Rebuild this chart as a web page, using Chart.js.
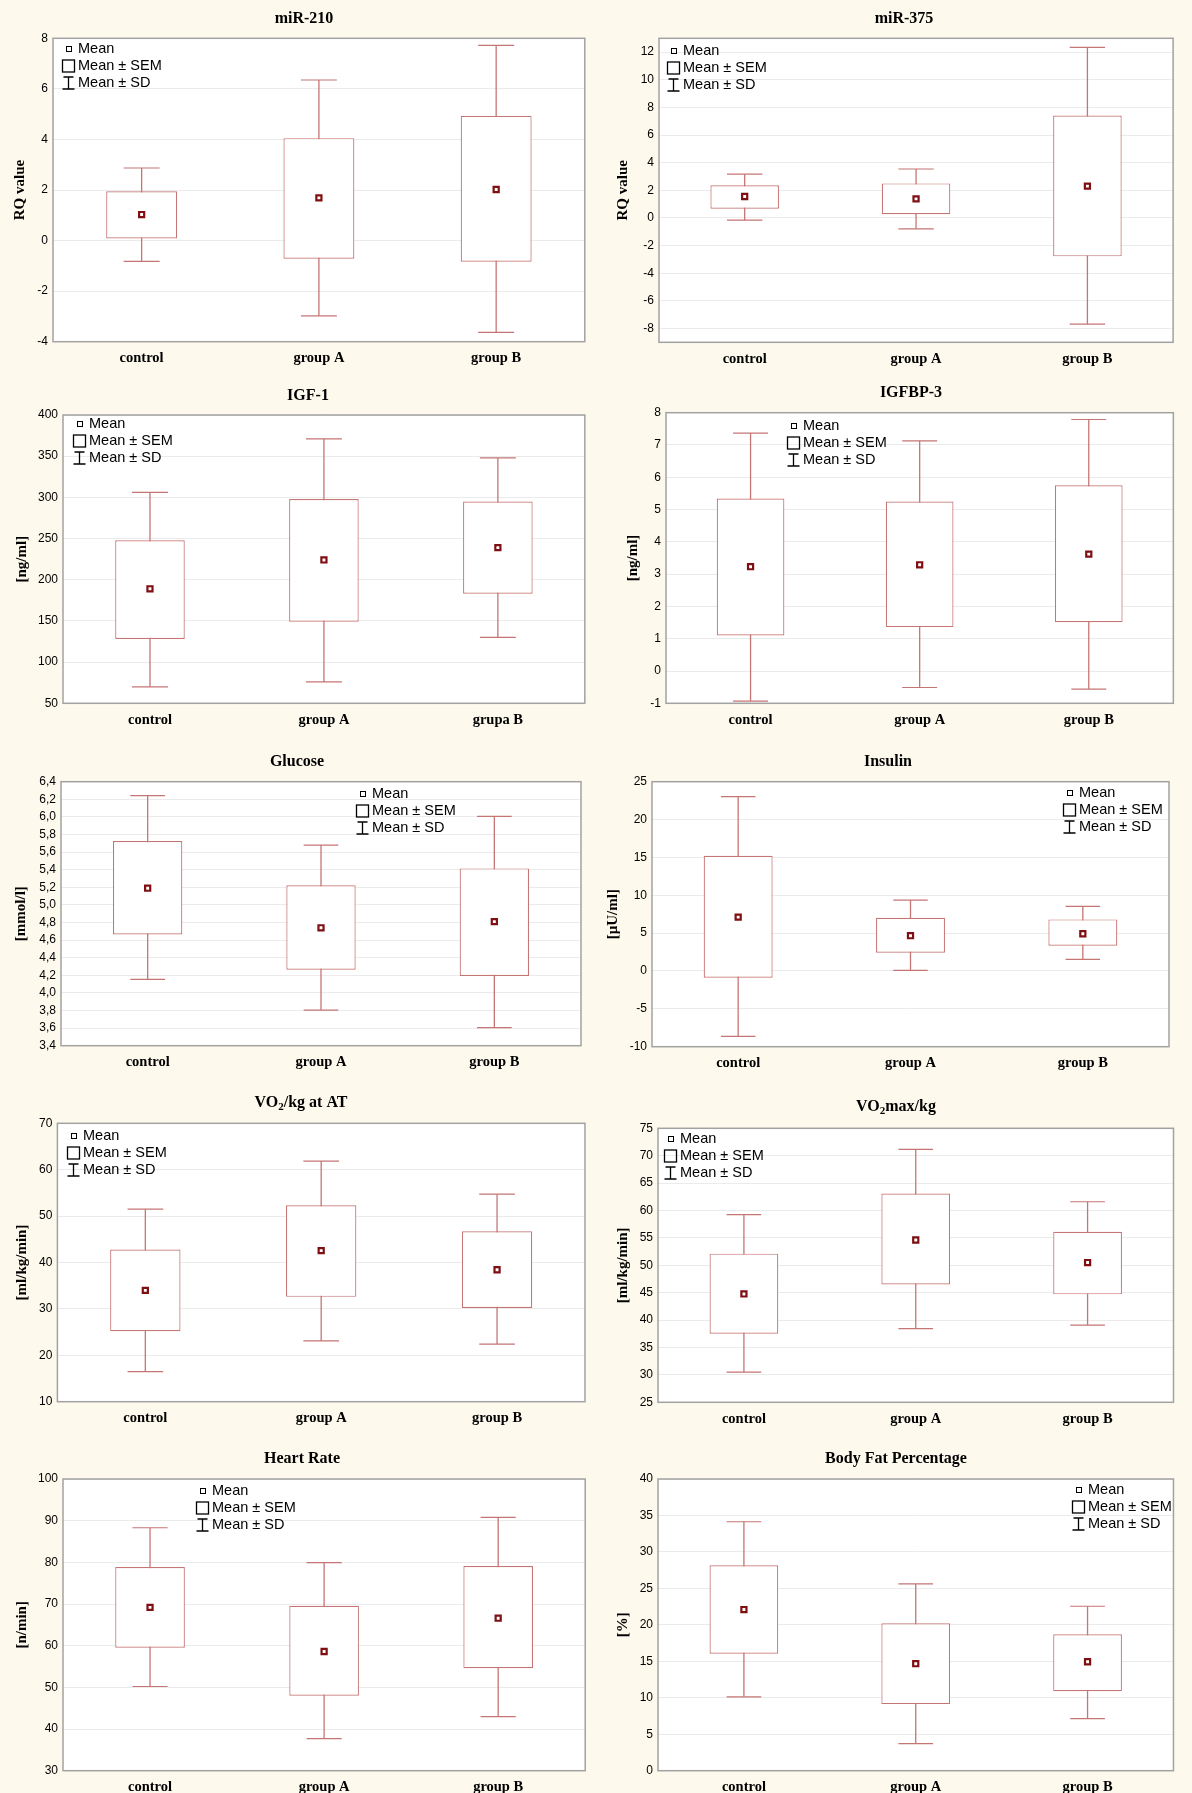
<!DOCTYPE html>
<html>
<head>
<meta charset="utf-8">
<script src="https://cdn.jsdelivr.net/npm/chart.js@4.4.1/dist/chart.umd.min.js"></script>
<style>
  html, body { margin: 0; padding: 0; background: #fdf9ec; }
  #page { position: relative; width: 1192px; height: 1793px; overflow: hidden; background: #fdf9ec; }
  .cell { position: absolute; }
</style>
</head>
<body>
<div id="page"></div>
<script>
// categories
const CATS = ["control", "group A", "group B"];
const CATS_IGF1 = ["control", "group A", "grupa B"];
const LEGEND_LABELS = ["Mean", "Mean ± SEM", "Mean ± SD"];

// values: mean, [mean - SEM, mean + SEM], [mean - SD, mean + SD]
const MIR210_MEAN = [1.03, 1.69, 2.02];
const MIR210_SEM = [[0.08, 1.95], [-0.72, 4.05], [-0.84, 4.93]];
const MIR210_SD = [[-0.82, 2.87], [-2.98, 6.35], [-3.63, 7.72]];
const MIR210_TICKS = [-4, -2, 0, 2, 4, 6, 8];

const MIR375_MEAN = [1.55, 1.38, 2.3];
const MIR375_SEM = [[0.66, 2.37], [0.27, 2.5], [-2.78, 7.41]];
const MIR375_SD = [[-0.16, 3.17], [-0.79, 3.54], [-7.69, 12.34]];
const MIR375_TICKS = [-8, -6, -4, -2, 0, 2, 4, 6, 8, 10, 12];

const IGF1_MEAN = [189, 224, 239];
const IGF1_SEM = [[128, 248], [149, 298], [183, 295]];
const IGF1_SD = [[70, 306], [76, 371], [130, 348]];
const IGF1_TICKS = [50, 100, 150, 200, 250, 300, 350, 400];

const IGFBP3_MEAN = [3.23, 3.29, 3.62];
const IGFBP3_SEM = [[1.1, 5.34], [1.36, 5.25], [1.51, 5.75]];
const IGFBP3_SD = [[-0.93, 7.37], [-0.51, 7.13], [-0.56, 7.79]];
const IGFBP3_TICKS = [-1, 0, 1, 2, 3, 4, 5, 6, 7, 8];

const GLUCOSE_MEAN = [5.19, 4.74, 4.81];
const GLUCOSE_SEM = [[4.665, 5.726], [4.264, 5.222], [4.192, 5.415]];
const GLUCOSE_SD = [[4.154, 6.241], [3.805, 5.68], [3.605, 6.006]];
const GLUCOSE_TICKS = [3.4, 3.6, 3.8, 4.0, 4.2, 4.4, 4.6, 4.8, 5.0, 5.2, 5.4, 5.6, 5.8, 6.0, 6.2, 6.4];

const INSULIN_MEAN = [7.12, 4.66, 4.92];
const INSULIN_SEM = [[-0.89, 15.22], [2.41, 7.03], [3.34, 6.81]];
const INSULIN_SD = [[-8.64, 23.02], [0.08, 9.37], [1.53, 8.53]];
const INSULIN_TICKS = [-10, -5, 0, 5, 10, 15, 20, 25];

const VO2AT_MEAN = [34.0, 42.55, 38.44];
const VO2AT_SEM = [[25.2, 42.8], [32.6, 52.35], [30.2, 46.73]];
const VO2AT_SD = [[16.5, 51.5], [23.1, 61.86], [22.4, 54.73]];
const VO2AT_TICKS = [10, 20, 30, 40, 50, 60, 70];

const VO2MAX_MEAN = [44.77, 54.62, 50.5];
const VO2MAX_SEM = [[37.5, 52.13], [46.5, 63.08], [44.7, 56.1]];
const VO2MAX_SD = [[30.5, 59.25], [38.44, 71.17], [39.1, 61.6]];
const VO2MAX_TICKS = [25, 30, 35, 40, 45, 50, 55, 60, 65, 70, 75];

const HR_MEAN = [69.2, 58.6, 66.6];
const HR_SEM = [[59.5, 78.9], [48, 69.6], [54.6, 79.1]];
const HR_SD = [[50.2, 88.3], [37.7, 79.95], [43, 90.8]];
const HR_TICKS = [30, 40, 50, 60, 70, 80, 90, 100];

const FAT_MEAN = [22.1, 14.67, 14.94];
const FAT_SEM = [[16.04, 28.18], [9.13, 20.21], [10.91, 18.7]];
const FAT_SD = [[10.13, 34.14], [3.72, 25.62], [7.15, 22.55]];
const FAT_TICKS = [0, 5, 10, 15, 20, 25, 30, 35, 40];

const BOX_COLOR = "#c67575";
const MEAN_COLOR = "#7f0f12";
const GRID = "#ebebeb";
const FRAME = "#a2a2a2";
const YW = 40;  // y axis box width
const LEG_ROW = 17;

const plain = (v) => String(v);
const comma = (v) => v.toFixed(1).replace(".", ",");

// page layout: cell = canvas box, plot = chart area, all in page pixels
const panels = [
  { title: [["miR-210"]], yTitle: "RQ value", cats: CATS, mean: MIR210_MEAN, sem: MIR210_SEM, sd: MIR210_SD,
    ticks: MIR210_TICKS, min: -4, max: 8, fmt: plain,
    cell: [0, 0, 604, 370], plot: [53, 38.3, 593, 341.7], titleAt: [304, 19], yTitleX: 20, legendAt: [62, 49] },
  { title: [["miR-375"]], yTitle: "RQ value", cats: CATS, mean: MIR375_MEAN, sem: MIR375_SEM, sd: MIR375_SD,
    ticks: MIR375_TICKS, min: -9, max: 13, fmt: plain,
    cell: [596, 0, 596, 370], plot: [659, 38.3, 1190, 342.3], titleAt: [904, 19], yTitleX: 623, legendAt: [667, 51] },
  { title: [["IGF-1"]], yTitle: "[ng/ml]", cats: CATS_IGF1, mean: IGF1_MEAN, sem: IGF1_SEM, sd: IGF1_SD,
    ticks: IGF1_TICKS, min: 50, max: 400, fmt: plain,
    cell: [0, 370, 604, 365], plot: [63, 415, 602, 703.3], titleAt: [308, 396], yTitleX: 22, legendAt: [73, 424] },
  { title: [["IGFBP-3"]], yTitle: "[ng/ml]", cats: CATS, mean: IGFBP3_MEAN, sem: IGFBP3_SEM, sd: IGFBP3_SD,
    ticks: IGFBP3_TICKS, min: -1, max: 8, fmt: plain,
    cell: [596, 370, 596, 365], plot: [666, 412.7, 1190, 703.3], titleAt: [911, 393], yTitleX: 633, legendAt: [787, 426] },
  { title: [["Glucose"]], yTitle: "[mmol/l]", cats: CATS, mean: GLUCOSE_MEAN, sem: GLUCOSE_SEM, sd: GLUCOSE_SD,
    ticks: GLUCOSE_TICKS, min: 3.4, max: 6.4, fmt: comma,
    cell: [0, 735, 604, 345], plot: [61, 781.7, 581, 1045.7], titleAt: [297, 762], yTitleX: 21, legendAt: [356, 794] },
  { title: [["Insulin"]], yTitle: "[µU/ml]", cats: CATS, mean: INSULIN_MEAN, sem: INSULIN_SEM, sd: INSULIN_SD,
    ticks: INSULIN_TICKS, min: -10, max: 25, fmt: plain,
    cell: [596, 735, 596, 345], plot: [652, 781.7, 1169, 1046.7], titleAt: [888, 762], yTitleX: 613, legendAt: [1063, 793] },
  { title: [["VO"], ["2", true], ["/kg at AT"]], yTitle: "[ml/kg/min]", cats: CATS, mean: VO2AT_MEAN, sem: VO2AT_SEM, sd: VO2AT_SD,
    ticks: VO2AT_TICKS, min: 10, max: 70, fmt: plain,
    cell: [0, 1080, 604, 360], plot: [57.4, 1123.3, 592, 1401.7], titleAt: [301, 1103], yTitleX: 22, legendAt: [67, 1136] },
  { title: [["VO"], ["2", true], ["max/kg"]], yTitle: "[ml/kg/min]", cats: CATS, mean: VO2MAX_MEAN, sem: VO2MAX_SEM, sd: VO2MAX_SD,
    ticks: VO2MAX_TICKS, min: 25, max: 75, fmt: plain,
    cell: [596, 1080, 596, 360], plot: [658, 1128.3, 1177, 1402.3], titleAt: [896, 1107], yTitleX: 623, legendAt: [664, 1139] },
  { title: [["Heart Rate"]], yTitle: "[n/min]", cats: CATS, mean: HR_MEAN, sem: HR_SEM, sd: HR_SD,
    ticks: HR_TICKS, min: 30, max: 100, fmt: plain,
    cell: [0, 1440, 604, 353], plot: [63, 1479, 590.5, 1770.7], titleAt: [302, 1459], yTitleX: 22, legendAt: [196, 1491] },
  { title: [["Body Fat Percentage"]], yTitle: "[%]", cats: CATS, mean: FAT_MEAN, sem: FAT_SEM, sd: FAT_SD,
    ticks: FAT_TICKS, min: 0, max: 40, fmt: plain,
    cell: [596, 1440, 596, 353], plot: [658, 1479, 1178, 1770.7], titleAt: [896, 1459], yTitleX: 623, legendAt: [1072, 1490] },
];

function drawTitle(ctx, parts, x, y) {
  const big = "bold 16px 'Liberation Serif', serif";
  const small = "bold 11px 'Liberation Serif', serif";
  let w = 0;
  parts.forEach(([t, sub]) => { ctx.font = sub ? small : big; w += ctx.measureText(t).width; });
  let cur = x - w / 2;
  ctx.textAlign = "left";
  ctx.textBaseline = "middle";
  parts.forEach(([t, sub]) => {
    ctx.font = sub ? small : big;
    ctx.fillText(t, cur, sub ? y + 4 : y);
    cur += ctx.measureText(t).width;
  });
}

function drawLegend(ctx, x, y) {
  ctx.save();
  ctx.strokeStyle = "#000";
  ctx.fillStyle = "#000";
  ctx.lineWidth = 1;
  ctx.strokeRect(x + 4.5, y - 2.5, 5, 5);
  ctx.lineWidth = 1.3;
  ctx.strokeRect(x + 0.5, y + LEG_ROW - 6, 12, 12);
  const ys = y + 2 * LEG_ROW;
  ctx.beginPath();
  ctx.moveTo(x + 6.5, ys - 6); ctx.lineTo(x + 6.5, ys + 6);
  ctx.moveTo(x + 1.5, ys - 6); ctx.lineTo(x + 11.5, ys - 6);
  ctx.moveTo(x + 0.5, ys + 6); ctx.lineTo(x + 12.5, ys + 6);
  ctx.stroke();
  ctx.font = "14.5px 'Liberation Sans', Arial, sans-serif";
  ctx.textAlign = "left";
  ctx.textBaseline = "middle";
  LEGEND_LABELS.forEach((t, i) => ctx.fillText(t, x + 16, y + i * LEG_ROW));
  ctx.restore();
}

function decoPlugin(p) {
  const [cx, cy] = p.cell;
  return {
    id: "deco",
    beforeDraw(chart) {
      const { ctx, chartArea: a } = chart;
      ctx.save();
      ctx.fillStyle = "#ffffff";
      ctx.fillRect(a.left, a.top, a.width, a.height);
      ctx.restore();
    },
    afterDatasetsDraw(chart) {
      const { ctx, chartArea: a } = chart;
      ctx.save();
      ctx.strokeStyle = FRAME;
      ctx.lineWidth = 1.5;
      ctx.strokeRect(a.left, a.top, a.width, a.height);
      ctx.restore();
    },
    afterDraw(chart) {
      const { ctx, chartArea: a } = chart;
      ctx.save();
      ctx.fillStyle = "#000";
      drawTitle(ctx, p.title, p.titleAt[0] - cx, p.titleAt[1] - cy);
      ctx.translate(p.yTitleX - cx, (a.top + a.bottom) / 2);
      ctx.rotate(-Math.PI / 2);
      ctx.font = "bold 15px 'Liberation Serif', serif";
      ctx.textAlign = "center";
      ctx.textBaseline = "middle";
      ctx.fillText(p.yTitle, 0, 0);
      ctx.restore();
      drawLegend(ctx, p.legendAt[0] - cx, p.legendAt[1] - cy);
    },
  };
}

function makeChart(p) {
  const [cx, cy, cw, ch] = p.cell;
  const [pl, pt, pr, pb] = p.plot;
  const xh = cy + ch - pb;  // x axis takes all the room under the plot
  const div = document.createElement("div");
  div.className = "cell";
  div.style.left = cx + "px";
  div.style.top = cy + "px";
  const canvas = document.createElement("canvas");
  canvas.width = cw;
  canvas.height = ch;
  canvas.style.width = cw + "px";
  canvas.style.height = ch + "px";
  div.appendChild(canvas);
  document.getElementById("page").appendChild(div);

  const capR = (pr - pl) / 30;
  const capStyle = {
    type: "line", showLine: false, order: 2,
    pointStyle: "line", pointRadius: capR, pointHoverRadius: capR,
    pointBorderColor: BOX_COLOR, pointBorderWidth: 1.2,
  };

  new Chart(canvas, {
    type: "bar",
    data: {
      labels: p.cats,
      datasets: [
        {
          type: "line", data: p.mean, showLine: false, order: 0,
          pointStyle: "rect", pointRadius: 3.6, pointHoverRadius: 3.6, pointBorderWidth: 2.2,
          pointBackgroundColor: "#ffffff", pointBorderColor: MEAN_COLOR,
        },
        {
          data: p.sem, order: 1, grouped: false, barPercentage: 0.4, categoryPercentage: 1,
          backgroundColor: "#ffffff", borderColor: BOX_COLOR, borderWidth: 1.2,
          borderSkipped: false, inflateAmount: 0,
        },
        { ...capStyle, data: p.sd.map((d) => d[1]) },
        { ...capStyle, data: p.sd.map((d) => d[0]) },
        {
          data: p.sd, order: 3, grouped: false, barThickness: 1.3,
          backgroundColor: BOX_COLOR, borderWidth: 0, inflateAmount: 0,
        },
      ],
    },
    options: {
      responsive: false,
      animation: false,
      events: [],
      layout: {
        padding: { left: pl - cx - YW, top: pt - cy, right: cx + cw - pr, bottom: 0 },
      },
      plugins: { legend: { display: false }, tooltip: { enabled: false } },
      scales: {
        x: {
          offset: true,
          grid: { display: false },
          border: { display: false },
          ticks: {
            color: "#000", padding: 0, maxRotation: 0,
            font: { family: "'Liberation Serif', serif", weight: "bold", size: 14.5 },
          },
          afterFit(s) { s.height = xh; s.paddingLeft = 0; s.paddingRight = 0; },
        },
        y: {
          min: p.min,
          max: p.max,
          grid: { color: GRID, drawTicks: false },
          border: { display: false },
          ticks: {
            color: "#000", padding: 5,
            font: { family: "'Liberation Sans', Arial, sans-serif", size: 12 },
            callback: p.fmt,
          },
          afterBuildTicks(s) { s.ticks = p.ticks.map((v) => ({ value: v })); },
          afterFit(s) { s.width = YW; s.paddingTop = 0; s.paddingBottom = 0; },
        },
      },
    },
    plugins: [decoPlugin(p)],
  });
}

panels.forEach(makeChart);
</script>
</body>
</html>
